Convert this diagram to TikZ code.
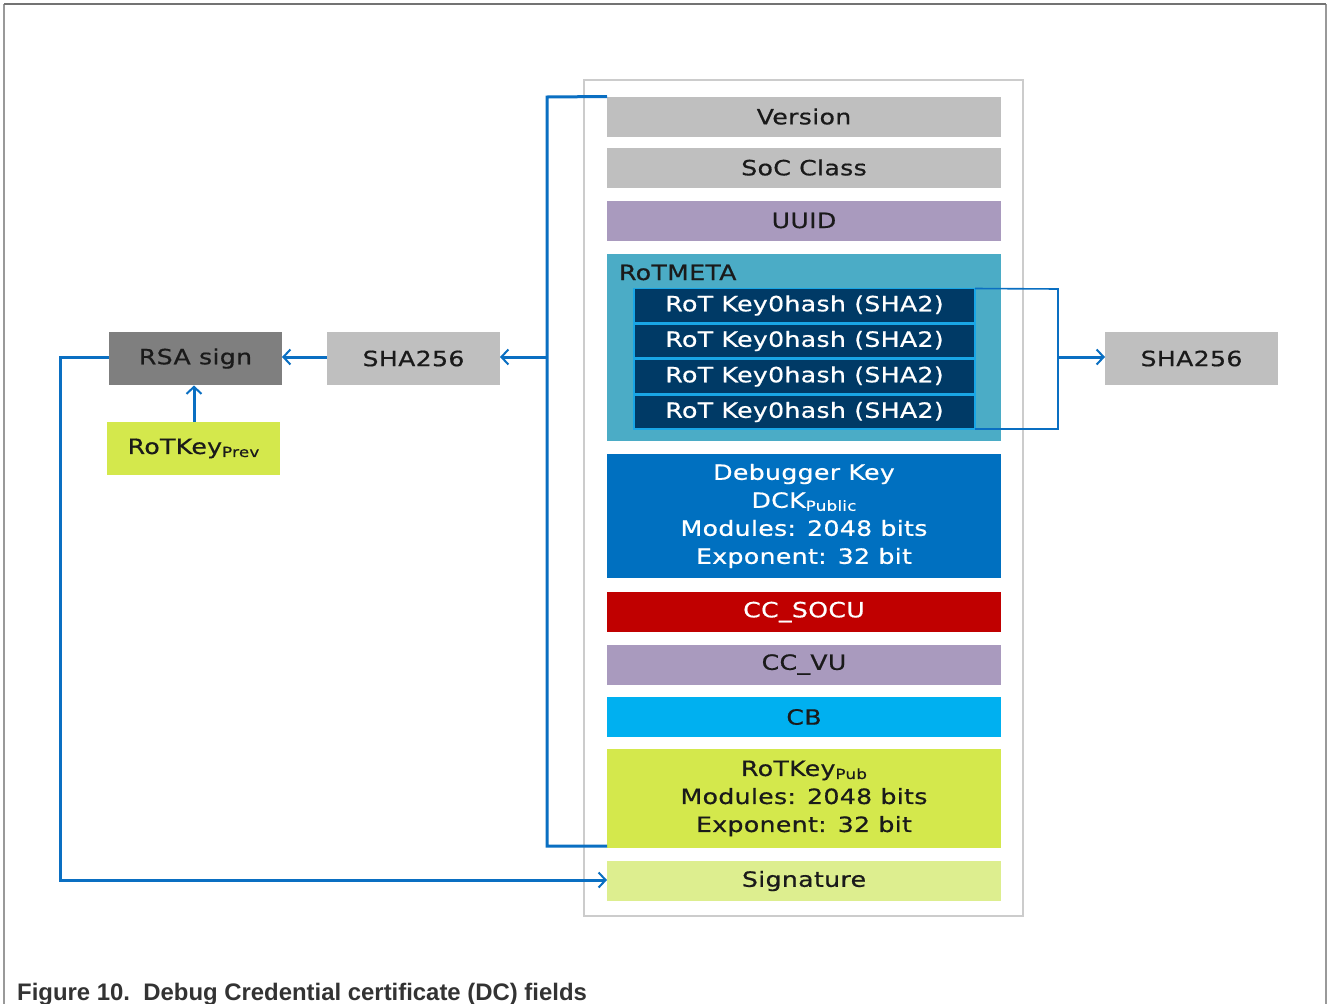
\documentclass[tikz,border=0pt]{standalone}
\usepackage{fontspec}
\setmainfont{DejaVu Sans}[LetterSpace=1.5, FakeStretch=1.2, FakeBold=0.6]
\newfontfamily\capfont{Liberation Sans}
\usetikzlibrary{arrows.meta}

\definecolor{linkblue}{HTML}{0A6FC2}
\definecolor{fieldgray}{HTML}{BFBFBF}
\definecolor{darkgray}{HTML}{7F7F7F}
\definecolor{lilac}{HTML}{A99ABE}
\definecolor{teal}{HTML}{4BACC6}
\definecolor{navy}{HTML}{003A66}
\definecolor{keyedge}{HTML}{19A6E6}
\definecolor{dkblue}{HTML}{0070C0}
\definecolor{crimson}{HTML}{C00000}
\definecolor{sky}{HTML}{00B0F0}
\definecolor{lime}{HTML}{D4E84C}
\definecolor{palelime}{HTML}{DDEE8F}
\definecolor{txt}{HTML}{1A1A1A}
\definecolor{captxt}{HTML}{333333}

\newcommand{\subtxt}[1]{{\fontsize{14}{14}\selectfont\raisebox{-3pt}{#1}}}

\tikzset{
  box/.style={rectangle, inner sep=0pt, outer sep=0pt,
    font=\fontsize{21}{28}\selectfont, text=txt, align=center},
  field/.style={box, minimum width=394pt, minimum height=#1},
  field/.default=40pt,
  keyrow/.style={box, fill=navy, draw=keyedge, line width=1.2pt,
    minimum width=341pt, minimum height=34pt, text=white},
  sidebox/.style={box, minimum width=173pt, minimum height=53pt},
  conn/.style={draw=linkblue, line width=3pt},
  thin/.style={draw=linkblue, line width=1.6pt},
  tip/.style={-{Straight Barb[length=7pt,width=15pt,line width=2pt]}}
}

\begin{document}
\begin{tikzpicture}[x=1pt,y=-1pt]
\useasboundingbox (0,0) rectangle (1328,1004);
\fill[white] (0,0) rectangle (1328,1004);

% outer frame
\draw[color=black!40, line width=1.5pt] (4,4) -- (4,1004);
\draw[color=black!40, line width=1.5pt] (1326,4) -- (1326,1004);
\draw[color=black!55, line width=2pt] (4,4) -- (1326,4);

% certificate container
\draw[draw=black!20, line width=2pt, fill=white] (584,80) rectangle (1023,916);

% certificate fields
\node[field, fill=fieldgray] (ver) at (804,116.5) {Version};
\node[field, fill=fieldgray] (soc) at (804,167.5) {SoC Class};
\node[field, fill=lilac] (uuid) at (804,220.5) {UUID};
\node[field=187pt, fill=teal] (meta) at (804,347.5) {};
\node[box, anchor=base west] (metalbl) at (619,280) {RoTMETA};
\node[keyrow] (k1) at (804.5,305.5) {RoT Key0hash (SHA2)};
\node[keyrow] (k2) at (804.5,341) {RoT Key0hash (SHA2)};
\node[keyrow] (k3) at (804.5,376.5) {RoT Key0hash (SHA2)};
\node[keyrow] (k4) at (804.5,412) {RoT Key0hash (SHA2)};
\node[field=124pt, fill=dkblue, text=white] (dck) at (804,516)
  {Debugger Key\\DCK\subtxt{Public}\\Modules: 2048 bits\\Exponent: 32 bit};
\node[field, fill=crimson, text=white] (socu) at (804,612) {CC\_SOCU};
\node[field, fill=lilac] (vu) at (804,664.5) {CC\_VU};
\node[field, fill=sky] (cb) at (804,717) {CB};
\node[field=99pt, fill=lime] (pub) at (804,798.5)
  {RoTKey\subtxt{Pub}\\Modules: 2048 bits\\Exponent: 32 bit};
\node[field, fill=palelime] (sig) at (804,881) {Signature};

% hashing and signing blocks
\node[sidebox, fill=fieldgray] (shaL) at (413.5,358.5) {SHA256};
\node[sidebox, fill=darkgray] (rsa) at (195.5,358.5) {RSA sign};
\node[sidebox, fill=lime] (prev) at (193.5,448.5) {RoTKey\subtxt{Prev}};
\node[sidebox, fill=fieldgray] (shaR) at (1191.5,358.5) {SHA256};

% hashed span of the certificate
\coordinate (lb) at (547,357);
\draw[conn] (ver.north west) -- (547,97) -- (547,846) -- (pub.south west |- 0,846);
\draw[conn, tip] (lb) -- (shaL.east |- lb);
\draw[conn, tip] (shaL.west |- lb) -- (rsa.east |- lb);
\draw[conn, tip] (prev.north -| 194,0) -- (194,385.5);
\draw[conn, tip] (rsa.west |- lb) -- (60,357) -- (60,880) -- (sig.west |- 0,880);

% hashed RoT key table
\coordinate (rb) at (1058,357);
\draw[thin] (k1.north east) -- (1058,289) -- (1058,429) -- (k4.south east);
\draw[conn, tip] (rb) -- (shaR.west |- rb);

% caption
\node[anchor=base west, inner sep=0pt, text=captxt,
  font=\capfont\bfseries\fontsize{23.9}{24}\selectfont] (cap) at (17,1000)
  {Figure 10.\ \ Debug Credential certificate (DC) fields};
\end{tikzpicture}
\end{document}
